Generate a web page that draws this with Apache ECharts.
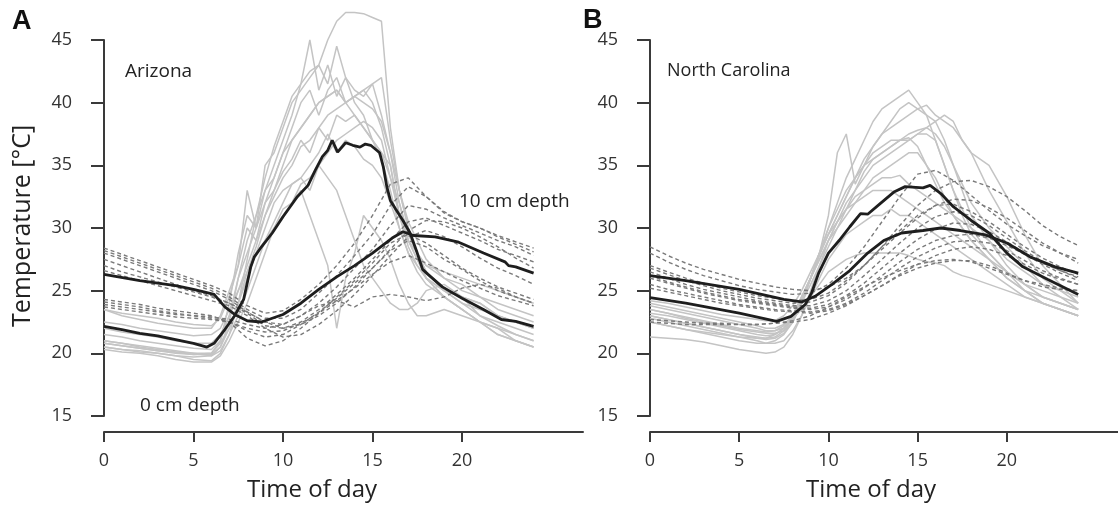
<!DOCTYPE html>
<html>
<head>
<meta charset="utf-8">
<script src="https://cdn.jsdelivr.net/npm/echarts@6/dist/echarts.min.js"></script>
<style>html,body{margin:0;padding:0;background:#fff;}#c{width:1118px;height:516px;}</style>
</head>
<body>
<div id="c"></div>
<script>
// ---- time grids (hours) ----
const hoursSurface = [0,1,2,3,4,5,6,6.5,7,7.5,8,8.5,9,9.5,10,10.5,11,11.5,12,12.5,13,13.5,14,14.5,15,15.5,16,16.5,17,17.5,18,19,20,21,22,23,24];
const hoursDeep = [0,1,2,3,4,5,6,7,8,9,10,11,12,13,14,15,16,17,18,19,20,21,22,23,24];
const xTicks = [0,5,10,15,20];

// ---- Arizona: 0 cm depth (individual days) ----
const azSurface = [
 [20.5,20.3,20.1,20.0,19.8,19.7,19.8,20.2,21.5,24,27.5,31,34,36.5,38.5,40.5,41.5,42.5,43,45,46.5,47.2,47.2,47.1,46.8,46.5,38,33,30,28,26.5,25,24,23,22.2,21.5,21],
 [21,20.8,20.6,20.4,20.2,20,20,21,24,28,31,30,33,35,37,39,41.5,45,41,43,40.5,42,40,39,37,35.5,33,30,28,26.5,25.5,24.5,23.5,22.5,22,21.5,21],
 [23.5,23,22.7,22.4,22.2,22,22,23,25,27,33,30,35,36,38,40,41,42,43,41.5,44.5,42,41,40.5,41.5,39,36,33,30.5,29,27.5,26,25,24.5,24,23.5,23],
 [22,21.7,21.5,21.3,21,20.8,20.8,21.5,23,26,28,30,32,33,35,37,38,39,40,40.5,41,40,40.5,41,41.5,42,37,33,30,28,26.5,25,24.5,24,23,22.5,22],
 [21,20.8,20.5,20.3,20.1,20,19.8,20.5,22.5,26,29,31,33,34,36,37,38,39,40,40.5,41,40,40.5,40,39.5,38.5,36,32,29,27.5,26,25,24.5,24,23,22.5,22],
 [20.8,20.6,20.4,20.2,20.1,19.9,19.9,20.5,22,24,26.5,28.5,31,33,34.5,35.5,37,36,38,37,39,38.5,39,38,37,36,34,31,28.5,27,26,24.5,23.5,22.5,21.5,21,20.5],
 [20.5,20.3,20.2,20,19.8,19.5,19.4,20,21.5,23,25,27,29,30.5,32,33.5,34,35,36,37.5,36,37,36.5,35.5,35,34,32,30,28,27,26,24.5,23.5,22.5,21.5,21,20.5],
 [20.3,20.1,20,19.8,19.5,19.3,19.3,19.8,21,22.5,24,26,28,30,31.5,32,33,31,29,27,22,26,28,31,30,29,27.5,25.5,24,23,23,23.5,23,22.5,22,21,20.5],
 [20.8,20.6,20.4,20.2,20,19.9,20,20.8,22,24,26,28,30,32,33,33.5,34,33,35,34,33,31,29,27,26,25,24,23.5,23.5,24,25,25.5,24.5,23,22.5,22,21.5],
 [21.5,21.3,21,20.8,20.6,20.4,20.3,21,23,25,27,29,31,32.5,34,35,36.5,37,38,39,39.5,40,40.5,41,40,38,35,31,29,27.5,26,25,24,23.5,23,22.5,22],
 [22.5,22.3,22,21.8,21.6,21.4,21.5,22,23.5,25,26.5,28,29,30,31,32,33.5,34,35,36,37,37.5,38,38.5,38,37,34,32,29.5,28,27,26,25.5,24.5,23.5,23,22.5],
 [23.5,23.2,23,22.8,22.5,22.3,22.2,22.8,24.5,27,30,29,32,34,36,38,40,41,39,41,42,40,39,38,37,36,35,31,29,28,27,26.5,26,25.5,25,24.5,24]
];

// ---- Arizona: 10 cm depth (individual days) ----
const azDeep = [
 [28.4,27.9,27.4,26.9,26.4,25.9,25.4,24.8,23.8,23.2,23.4,24.3,25.5,27,28.8,31,33.5,34,32.5,31.2,30.5,30,29.4,28.9,28.4],
 [28.2,27.7,27.2,26.7,26.2,25.7,25.2,24.5,23.5,22.8,22.8,23.5,24.8,26.2,27.8,29.5,31.8,33.3,32.5,31.3,30.5,30,29.3,28.7,28.1],
 [28,27.5,27,26.5,26,25.5,25,24.3,23.3,22.5,22.3,23,24,25.3,26.8,28.3,30.2,31.8,31.5,30.8,30.2,29.6,29,28.5,27.8],
 [27.5,27,26.5,26,25.5,25,24.6,24,23.2,22.2,22,22.5,23.5,24.7,26,27.5,29,30.5,30.8,30.2,29.6,29,28.3,27.8,27.3],
 [27,26.5,26.1,25.7,25.3,24.9,24.5,24,23.3,22.5,22,22.3,23,24,25.3,26.8,28.3,29.8,30.6,30.5,30,29.3,28.5,27.6,26.8],
 [26.6,26.2,25.8,25.4,25,24.6,24.2,23.8,23,22,21.3,21.5,22.3,23.4,24.7,26.2,27.8,29.3,29.8,29.3,28.5,27.6,26.8,26.2,25.5],
 [24.3,24.1,23.9,23.6,23.4,23.2,23,22.5,21.2,20.6,21,22,23.2,24.5,25.8,27.2,28.8,29.5,28.8,27.8,26.8,26,25.3,24.8,24.3],
 [24.1,23.9,23.7,23.4,23.2,23,22.8,22.5,21.8,21.3,21.5,22.3,23.3,24.4,25.6,26.8,28.2,29,28.5,27.5,26.7,25.8,25,24.5,24],
 [23.9,23.7,23.5,23.3,23.1,23,22.9,22.7,22.3,22,22.3,23,23.8,24.2,23.7,24.5,24.7,24.5,24.2,24.5,25.2,25.5,25.2,24.5,24],
 [23.7,23.5,23.3,23.1,22.9,22.8,22.7,22.5,22,21.7,21.8,22.4,23.2,24.2,25.2,26.3,27.3,27.8,27.2,26.5,25.8,25.2,24.6,24.2,23.8]
];

// ---- Arizona means ----
const azMeanSurfHours = [0,1,2,3,4,5,5.75,6.15,6.75,7.3,7.8,8.2,8.4,8.8,9.4,10,10.4,10.8,11.4,11.8,12.2,12.5,12.75,13.05,13.5,13.9,14.3,14.6,14.9,15.4,15.6,15.8,16,16.3,16.7,17.1,17.5,17.8,18.1,18.9,20,21.2,22.2,23,24];
const azMeanSurf = [22.15,21.9,21.6,21.4,21.1,20.8,20.5,20.8,21.9,23,24.3,26.9,27.7,28.5,29.6,30.9,31.7,32.5,33.4,34.6,35.7,36.2,37,36.05,36.8,36.6,36.45,36.7,36.6,36,34.9,33.3,32.2,31.5,30.6,29.6,28,26.7,26.3,25.3,24.4,23.5,22.7,22.55,22.15];
const azMeanDeepHours = [0,2,4,5,6.15,6.75,7.3,8,8.8,10,11,12,13,14,15,16.1,16.7,17.3,18.5,19.75,21.2,22.4,22.6,23,24];
const azMeanDeep = [26.3,25.8,25.4,25.1,24.7,23.7,23.1,22.6,22.5,23.1,24,25.1,26.1,27,28,29.2,29.7,29.4,29.3,28.9,28,27.3,27,26.9,26.4];

// ---- North Carolina: 0 cm depth ----
const ncSurface = [
 [23.5,23.2,22.8,22.5,22.2,21.9,21.7,21.6,21.6,21.8,22.5,24,26,28,30,32,34,35.5,37,38.5,39.5,40,40.5,41,40,39,37,35,33,31,29.5,28,26.5,25.5,24.5,24,23.5],
 [23,22.7,22.4,22.1,21.8,21.5,21.2,21.1,21.2,21.6,22.5,24,26,28,31,36,37.5,33.5,35,36.5,37.5,38.5,39.5,40,39.5,39,38.5,37,35,33,31,29,27,25.5,24.5,24,23.5],
 [24,23.7,23.4,23.1,22.8,22.5,22.2,22,22,22.3,23,24.5,26,28,29.5,31,32.5,34,35.5,36.5,37.5,38,38.5,39,39.5,39.8,39,38.5,38,37,36,33,30.5,28,26,25,24],
 [23.8,23.5,23.2,22.9,22.6,22.3,22,21.8,21.8,22,22.8,24,25.5,27,28.5,30,31.5,33,34,35,35.5,36,36.5,37,37.5,38,38.5,39,38.5,37,36,35,32.5,29.5,27,25.5,24],
 [22.5,22.2,21.9,21.6,21.3,21,20.8,20.8,21,21.5,22.5,24,26,28,30,31.5,33,34,35,35.5,36,36.5,37,37,37.5,37.5,37,35,33,31.5,30,28,26.5,25,24,23.5,23],
 [21.3,21.2,21.1,20.9,20.6,20.3,20.1,20,20.1,20.5,21.5,23,25,27,29,30.5,32,33,34.5,35.5,36,36.5,37,37.2,36.5,35,33.5,32,31,30,29,27.5,26,25,24,23.5,23],
 [23.2,23,22.7,22.4,22.1,21.8,21.5,21.4,21.5,22,23,24.5,26,27.5,29,30,31,32,33,34,34.5,35,35.5,36,36,35,34,32.5,31,30,29,27.5,26,25,24.5,24,23.5],
 [22.8,22.5,22.2,21.9,21.6,21.3,21,20.8,20.8,21,21.8,23,24.5,26,27.5,28.5,29.5,30,30.5,31,31,31.5,31,31,30.5,30,29.5,29,28.5,28,27.5,26.5,25.5,24.5,24,23.5,23],
 [22.5,22.2,21.9,21.7,21.5,21.3,21.2,21.2,21.5,22,22.8,23.5,24.5,25.5,26.5,27,27.5,27.8,28,28,28,28,28,27.8,27.5,27.3,27.2,27,26.5,26.2,26,25.5,25,24.5,24,23.5,23],
 [23.5,23.2,22.9,22.6,22.3,22,21.8,21.7,21.8,22.2,23,24.5,26,27.5,29,30.5,31.5,32.5,33,33.5,34,34,34.2,33.5,33,32.5,32,31.5,31,30.5,30,29,27.5,26.5,25.5,25,24.5],
 [23,22.7,22.4,22.1,21.8,21.5,21.3,21.2,21.3,21.8,22.8,24.3,26,27.8,29.5,31,32.5,34,35,36,36.5,37,37,37.5,37.8,38,37.5,36.5,35,33.5,32,30,28.5,27,25.5,24.5,23.5],
 [24.2,24,23.7,23.4,23.1,22.9,22.7,22.6,22.6,23,23.8,25,26.5,28,29.5,30.5,31.5,32,32.5,33,33,33,32.5,32,31.5,31,30.5,30,29.5,29,28.5,27.5,26.5,25.5,25,24.5,24]
];

// ---- North Carolina: 10 cm depth ----
const ncDeep = [
 [28.5,27.8,27.2,26.7,26.3,25.9,25.6,25.3,25.1,25,25.3,26,27,28.5,30.2,31.8,33,33.7,33.8,33.3,32.5,31.4,30.2,29.3,28.6],
 [28,27.3,26.7,26.2,25.8,25.4,25.1,24.9,24.7,24.8,25.5,26.8,28.5,30.5,32.5,34.3,34.6,33.8,32.6,31.4,30.3,29.4,28.6,28,27.5],
 [27,26.5,26,25.6,25.2,24.9,24.6,24.4,24.2,24.3,24.8,25.8,27,28.3,29.6,30.8,31.8,32.3,32.2,31.6,30.8,29.8,28.8,28,27.2],
 [26.8,26.3,25.8,25.4,25,24.7,24.4,24.2,24,24.1,24.6,25.6,27,28.5,29.8,31,31.8,31.9,31.3,30.5,29.5,28.5,27.6,26.9,26.3],
 [26.5,26,25.5,25.1,24.8,24.5,24.2,24,23.8,23.8,24.2,25,26.2,27.5,28.8,30,30.9,31.3,31,30.2,29.2,28.2,27.3,26.6,26],
 [26.2,25.7,25.3,24.9,24.6,24.3,24.1,23.9,23.7,23.6,23.9,24.6,25.6,26.8,28,29.1,29.9,30.4,30.3,29.7,28.9,28,27.2,26.6,26.1],
 [26,25.6,25.2,24.8,24.5,24.2,24,23.8,23.6,23.5,23.7,24.3,25.2,26.2,27.3,28.3,29,29.4,29.5,29.2,28.6,27.9,27.1,26.4,25.8],
 [25.5,25.1,24.8,24.5,24.2,23.9,23.7,23.5,23.4,23.3,23.5,24,24.8,25.8,26.8,27.7,28.4,28.9,29,28.8,28.2,27.4,26.6,26,25.5],
 [25.2,24.9,24.6,24.3,24,23.8,23.6,23.4,23.3,23.2,23.4,23.9,24.6,25.4,26.3,27.1,27.8,28.3,28.5,28.3,27.8,27.1,26.4,25.9,25.5],
 [22.7,22.6,22.5,22.4,22.4,22.3,22.3,22.4,22.5,22.7,23.2,23.8,24.6,25.4,26.2,26.8,27.2,27.4,27.4,27,26.4,25.8,25.3,25.1,25],
 [22.5,22.4,22.3,22.3,22.3,22.3,22.3,22.4,22.6,23,23.7,24.5,25.3,26,26.6,27.1,27.4,27.5,27.3,26.8,26.3,25.8,25.5,25.2,25]
];

// ---- North Carolina means ----
const ncMeanSurfHours = [0,2,5,7.1,7.9,8.7,9.05,9.45,10,10.6,11.2,11.8,12.2,12.9,13.7,14.3,15.3,15.7,16.3,17,18,19,20,20.9,22.3,24];
const ncMeanSurf = [24.45,24,23.2,22.55,22.95,23.9,24.8,26.4,28,29,30.1,31.15,31.1,31.95,32.9,33.3,33.2,33.4,32.75,31.7,30.6,29.6,28,26.9,25.9,24.7];
const ncMeanDeepHours = [0,2,5,7.5,8.5,9.25,10.2,11.2,12.2,13.1,14.1,15.3,16.3,17.4,18.8,20,21.3,22.7,24];
const ncMeanDeep = [26.2,25.8,25.1,24.3,24.1,24.55,25.5,26.6,28,29,29.6,29.8,30,29.8,29.45,28.8,27.7,26.9,26.4];

// ---- build ----
const FONT = "'Open Sans', 'DejaVu Sans', sans-serif";
const AX = '#3a3a3a';
function pairs(times, vals){ return times.map((t,i)=>[t, vals[i]]); }
const series = [];
function add(times, vals, panel, kind){
  const st = kind === 'surf' ? {color:'#c4c4c4', width:1.5, type:'solid'}
           : kind === 'deep' ? {color:'#7a7a7a', width:1.4, type:[4,3]}
           : {color:'#1e1e1e', width:2.8, type:'solid'};
  series.push({type:'line', xAxisIndex:panel, yAxisIndex:panel, data:pairs(times, vals),
    symbol:'none', silent:true, animation:false, clip:false, lineStyle:st, z: kind==='mean'?5:(kind==='deep'?3:2)});
}
azSurface.forEach(v=>add(hoursSurface, v, 0, 'surf'));
ncSurface.forEach(v=>add(hoursSurface, v, 1, 'surf'));
azDeep.forEach(v=>add(hoursDeep, v, 0, 'deep'));
ncDeep.forEach(v=>add(hoursDeep, v, 1, 'deep'));
add(azMeanSurfHours, azMeanSurf, 0, 'mean');
add(azMeanDeepHours, azMeanDeep, 0, 'mean');
add(ncMeanSurfHours, ncMeanSurf, 1, 'mean');
add(ncMeanDeepHours, ncMeanDeep, 1, 'mean');

function xAx(i, max){
  return {type:'value', gridIndex:i, min:0, max:max, offset:16,
    axisLine:{show:true, lineStyle:{color:AX, width:2}},
    axisTick:{show:true, length:10, customValues:xTicks, lineStyle:{color:AX, width:2}},
    axisLabel:{customValues:xTicks, margin:20, fontSize:18, color:'#333', fontFamily:FONT},
    splitLine:{show:false}};
}
function yAx(i){
  return {type:'value', gridIndex:i, min:15, max:45, interval:5, offset:13,
    axisLine:{show:true, lineStyle:{color:AX, width:2}},
    axisTick:{show:true, length:13, lineStyle:{color:AX, width:2}},
    axisLabel:{margin:19, fontSize:18, color:'#333', fontFamily:FONT},
    splitLine:{show:false}};
}

const chart = echarts.init(document.getElementById('c'), null, {renderer:'canvas'});
chart.setOption({
  animation:false,
  backgroundColor:'#fff',
  grid:[
    {left:104, top:40, width:479, height:376},
    {left:650, top:40, width:480, height:376}
  ],
  xAxis:[xAx(0, 479/17.9), xAx(1, 480/18.3)],
  yAxis:[yAx(0), yAx(1)],
  series: series,
  graphic:[
    {type:'text', left:12, top:8, silent:true, style:{text:'A', font:"bold 27px 'Liberation Sans', Arial, sans-serif", fill:'#111'}},
    {type:'text', left:583, top:7, silent:true, style:{text:'B', font:"bold 27px 'Liberation Sans', Arial, sans-serif", fill:'#111'}},
    {type:'text', left:125, top:62, silent:true, style:{text:'Arizona', font:"19px " + FONT, fill:'#222'}},
    {type:'text', left:667, top:62, silent:true, style:{text:'North Carolina', font:"18px " + FONT, fill:'#222'}},
    {type:'text', left:459, top:192, silent:true, style:{text:'10 cm depth', font:"19px " + FONT, fill:'#222'}},
    {type:'text', left:140, top:396, silent:true, style:{text:'0 cm depth', font:"19px " + FONT, fill:'#222'}},
    {type:'text', left:247, top:478, silent:true, style:{text:'Time of day', font:"24px " + FONT, fill:'#222'}},
    {type:'text', left:806, top:478, silent:true, style:{text:'Time of day', font:"24px " + FONT, fill:'#222'}},
    {type:'text', x:23, y:226, rotation:Math.PI/2, silent:true,
      style:{text:'Temperature [°C]', font:"25px " + FONT, fill:'#222', align:'center', verticalAlign:'middle'}}
  ]
});
</script>
</body>
</html>
